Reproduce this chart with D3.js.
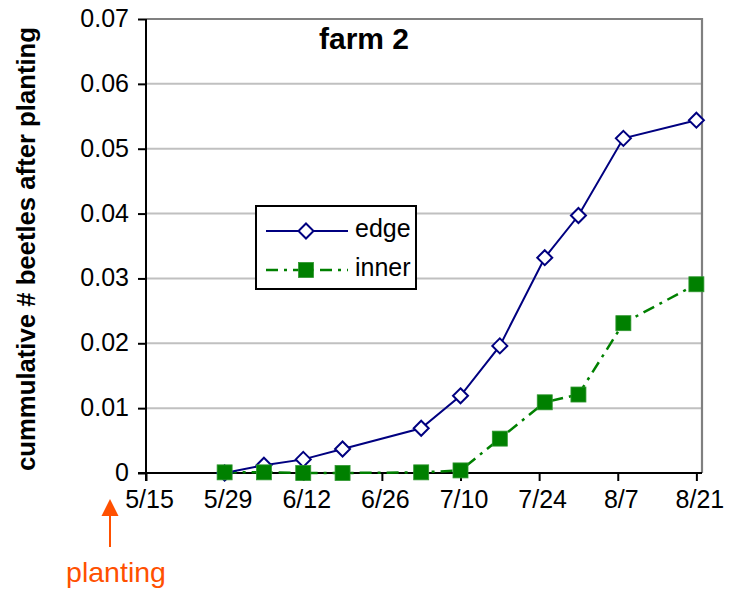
<!DOCTYPE html>
<html>
<head>
<meta charset="utf-8">
<script src="https://cdn.jsdelivr.net/npm/d3@7"></script>
<style>
  html, body { margin: 0; padding: 0; background: #fff; }
  svg { display: block; font-family: "Liberation Sans", Arial, Helvetica, sans-serif; }
</style>
</head>
<body>
<svg id="chart" width="739" height="591"></svg>
<script>
// Sampling dates (month/day) and cumulative beetle counts per plant
const dates = ["5/29", "6/5", "6/12", "6/19", "7/3", "7/10", "7/17", "7/25", "7/31", "8/8", "8/21"];
const edgeValues  = [0, 0.0012, 0.0021, 0.0037, 0.0069, 0.0119, 0.0196, 0.0332, 0.0397, 0.0516, 0.0544];
const innerValues = [0.0001, 0.0001, 0, 0, 0.0001, 0.0004, 0.0053, 0.0109, 0.0121, 0.0231, 0.0291];
const xTickLabels = ["5/15", "5/29", "6/12", "6/26", "7/10", "7/24", "8/7", "8/21"];
const yTicks = [0, 0.01, 0.02, 0.03, 0.04, 0.05, 0.06, 0.07];
const seriesNames = ["edge", "inner"];
const chartTitle = "farm 2";
const yTitle = "cummulative # beetles after planting";
const noteText = "planting";

const YEAR = 2004;
const parseDay = s => { const [m, d] = s.split("/").map(Number); return new Date(Date.UTC(YEAR, m - 1, d)); };
const fmt = d3.utcFormat("%-m/%-d");

const svg = d3.select("#chart");
const plot = { left: 146, right: 702, top: 19, bottom: 473 };

const x = d3.scaleUtc()
  .domain([parseDay("5/15"), d3.utcDay.offset(parseDay("8/21"), 1)])
  .range([plot.left, plot.right]);
const y = d3.scaleLinear().domain([0, 0.07]).range([plot.bottom, plot.top]);

const FONT = 25;

// horizontal gridlines
svg.append("g").selectAll("line")
  .data(yTicks.filter(v => v > 0 && v < 0.07))
  .join("line")
  .attr("x1", plot.left).attr("x2", plot.right)
  .attr("y1", d => y(d)).attr("y2", d => y(d))
  .attr("stroke", "#c0c0c0").attr("stroke-width", 2);

// top and right frame
svg.append("path")
  .attr("d", `M${plot.left},${plot.top}H${plot.right}V${plot.bottom}`)
  .attr("fill", "none").attr("stroke", "#808080").attr("stroke-width", 2.2);

// y axis
const yAxis = svg.append("g")
  .attr("transform", `translate(${plot.left},0)`)
  .call(d3.axisLeft(y).tickValues(yTicks).tickSize(8).tickPadding(9)
        .tickFormat(d => d === 0 ? "0" : d3.format(".2f")(d)));
yAxis.select(".domain").attr("d", `M0,${plot.top}V${plot.bottom + 8}`)
  .attr("stroke", "#000").attr("stroke-width", 2);
yAxis.selectAll(".tick line").attr("stroke", "#000").attr("stroke-width", 2);
yAxis.selectAll(".tick text")
  .attr("font-size", FONT).attr("fill", "#000")
  .attr("font-family", "Liberation Sans, Arial, sans-serif")
  .attr("dy", "0.3em");

// x axis
const xTicks = xTickLabels.map(parseDay);
const xAxis = svg.append("g")
  .attr("transform", `translate(0,${plot.bottom})`)
  .call(d3.axisBottom(x).tickValues(xTicks).tickSize(8).tickPadding(10).tickFormat(fmt));
xAxis.select(".domain").attr("d", `M${plot.left - 8},0H${plot.right}`)
  .attr("stroke", "#000").attr("stroke-width", 2);
xAxis.selectAll(".tick line").attr("stroke", "#000").attr("stroke-width", 2);
xAxis.selectAll(".tick text")
  .attr("font-size", FONT).attr("fill", "#000")
  .attr("font-family", "Liberation Sans, Arial, sans-serif")
  .attr("dx", 3).attr("dy", "0.68em");

const edgeData = dates.map((d, i) => ({ date: parseDay(d), value: edgeValues[i] }));
const innerData = dates.map((d, i) => ({ date: parseDay(d), value: innerValues[i] }));

const line = d3.line().x(d => x(d.date)).y(d => y(d.value));

const NAVY = "#000080";
const GREEN = "#008000";
const DASH = "12,6,3,6";

// inner series
svg.append("path").datum(innerData)
  .attr("d", line).attr("fill", "none")
  .attr("stroke", GREEN).attr("stroke-width", 2.5).attr("stroke-dasharray", DASH);

// edge series
svg.append("path").datum(edgeData)
  .attr("d", line).attr("fill", "none")
  .attr("stroke", NAVY).attr("stroke-width", 2);

const diamond = (cx, cy, r) => `M${cx},${cy - r}L${cx + r},${cy}L${cx},${cy + r}L${cx - r},${cy}Z`;

svg.append("g").selectAll("path")
  .data(edgeData).join("path")
  .attr("d", d => diamond(x(d.date), y(d.value), 7.5))
  .attr("fill", "#fff").attr("stroke", NAVY).attr("stroke-width", 2);

svg.append("g").selectAll("rect")
  .data(innerData).join("rect")
  .attr("x", d => x(d.date) - 7.5).attr("y", d => y(d.value) - 7.5)
  .attr("width", 15).attr("height", 15)
  .attr("fill", GREEN).attr("stroke", "#2f962f").attr("stroke-width", 0.8);

// chart title
svg.append("text")
  .attr("x", 364).attr("y", 49)
  .attr("text-anchor", "middle")
  .attr("font-size", 30).attr("font-weight", "bold")
  .text(chartTitle);

// y axis title
svg.append("text")
  .attr("transform", "translate(35,249) rotate(-90)")
  .attr("text-anchor", "middle")
  .attr("font-size", 25.7).attr("font-weight", "bold")
  .text(yTitle);

// legend
const legend = svg.append("g");
legend.append("rect")
  .attr("x", 256).attr("y", 206).attr("width", 160).attr("height", 83)
  .attr("fill", "#fff").attr("stroke", "#000").attr("stroke-width", 2);
const rows = [
  { name: seriesNames[0], y: 231 },
  { name: seriesNames[1], y: 270 }
];
legend.append("line")
  .attr("x1", 266).attr("x2", 348).attr("y1", rows[0].y).attr("y2", rows[0].y)
  .attr("stroke", NAVY).attr("stroke-width", 2);
legend.append("path")
  .attr("d", diamond(306, rows[0].y, 7.5))
  .attr("fill", "#fff").attr("stroke", NAVY).attr("stroke-width", 2);
legend.append("line")
  .attr("x1", 266).attr("x2", 348).attr("y1", rows[1].y).attr("y2", rows[1].y)
  .attr("stroke", GREEN).attr("stroke-width", 2.5).attr("stroke-dasharray", DASH);
legend.append("rect")
  .attr("x", 306 - 7.5).attr("y", rows[1].y - 7.5).attr("width", 15).attr("height", 15)
  .attr("fill", GREEN).attr("stroke", "#2f962f").attr("stroke-width", 0.8);
legend.selectAll("text.lbl")
  .data(rows).join("text")
  .attr("class", "lbl")
  .attr("x", 355).attr("y", d => d.y + 6)
  .attr("font-size", FONT)
  .text(d => d.name);

// planting marker below the first date
const ORANGE = "#ff5000";
const px = 110;
svg.append("line")
  .attr("x1", px).attr("x2", px).attr("y1", 514).attr("y2", 547)
  .attr("stroke", ORANGE).attr("stroke-width", 2);
svg.append("path")
  .attr("d", `M${px},499L${px + 8.5},516L${px - 8.5},516Z`)
  .attr("fill", ORANGE);
svg.append("text")
  .attr("x", 116).attr("y", 582)
  .attr("text-anchor", "middle")
  .attr("font-size", 28.5).attr("fill", ORANGE)
  .text(noteText);
</script>
</body>
</html>
